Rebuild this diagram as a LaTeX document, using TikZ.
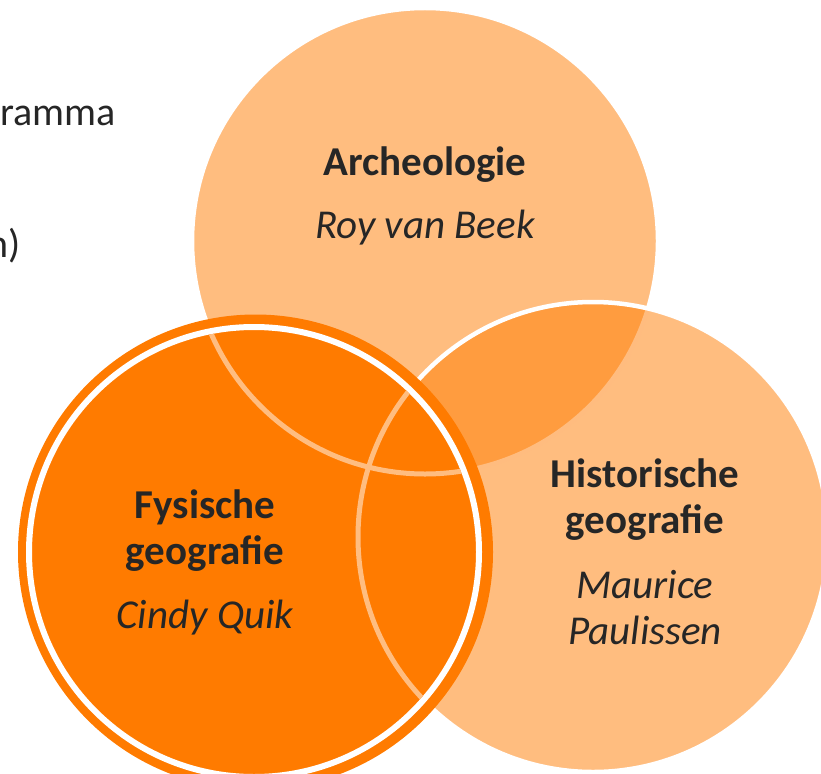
\documentclass[tikz,border=0pt]{standalone}
\usepackage{fontspec}
\setmainfont{Carlito}
\definecolor{vennorange}{HTML}{FF7B00}
\definecolor{vennlight}{HTML}{FFBD80}
\definecolor{venntext}{HTML}{262626}

\begin{document}
\begin{tikzpicture}[x=1pt,y=1pt]
\tikzstyle{every node}+=[inner sep=0pt, text=venntext, anchor=base]
\tikzstyle{vtitle}=[font=\fontsize{41}{48}\selectfont\bfseries]
\tikzstyle{vname}=[font=\fontsize{41}{48}\selectfont\itshape]
\tikzstyle{vside}=[font=\fontsize{40}{48}\selectfont, anchor=base east]
\useasboundingbox (0,0) rectangle (821,-773);
% text cut off at the left
\node (prog) [vside] at (116,-125) {ramma};
\node (bron) [vside] at (21,-257) {n)};
% top and right circles
\fill [vennorange, fill opacity=0.5] (425,-241) circle (233);
\draw [white, line width=4.5] (425,-241) circle (233);
\fill [vennorange, fill opacity=0.5] (593,-537) circle (235);
\draw [white, line width=4.5] (593,-537) circle (235);
% left circle, solid with a ring
\fill [vennorange] (255.5,-552) circle (237.5);
\draw [white, line width=6] (254,-552) circle (225);
\begin{scope}
\clip (254,-552) circle (222);
\draw [vennlight, line width=5] (425,-241) circle (233);
\draw [vennlight, line width=5] (593,-537) circle (235);
\end{scope}
% labels
\node (arch) [vtitle] at (425,-175) {Archeologie};
\node (archname) [vname] at (425,-238) {Roy van Beek};
\node (fys) [vtitle] at (205,-518) {Fysische};
\node (fysgeo) [vtitle] at (205,-564) {geografie};
\node (fysname) [vname] at (205,-628) {Cindy Quik};
\node (hist) [vtitle] at (645,-487) {Historische};
\node (histgeo) [vtitle] at (645,-533) {geografie};
\node (histname) [vname] at (645,-598) {Maurice};
\node (histname2) [vname] at (645,-644) {Paulissen};
\end{tikzpicture}
\end{document}
